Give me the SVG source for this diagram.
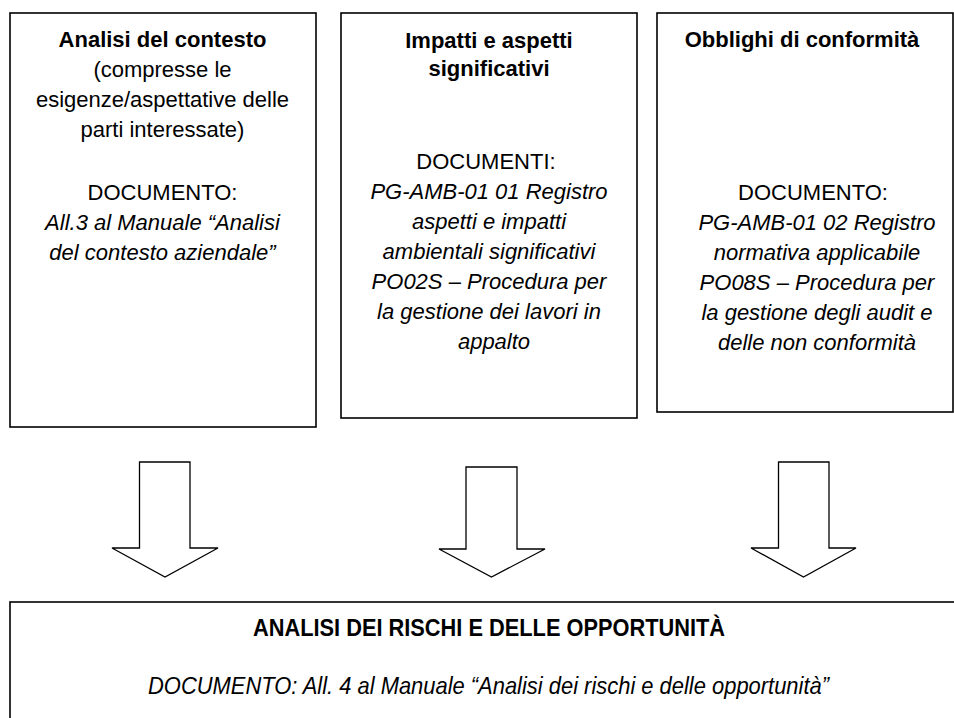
<svg xmlns="http://www.w3.org/2000/svg" width="954" height="718" viewBox="0 0 954 718">
  <style>
    .box { fill: #ffffff; stroke: #000000; stroke-width: 1.6; }
    .arrow { fill: #ffffff; stroke: #000000; stroke-width: 1.3; stroke-linejoin: miter; }
    text { font-family: "Liberation Sans", Arial, sans-serif; fill: #000000; text-anchor: middle; }
    .t { font-size: 22px; }
    .b { font-weight: bold; }
    .i { font-style: italic; }
    .big { font-size: 24px; }
  </style>
  <rect x="0" y="0" width="954" height="718" fill="#ffffff"/>

  <g id="node-contesto">
    <rect class="box" x="10" y="13" width="306" height="414"/>
    <text class="t b" x="162.5" y="47">Analisi del contesto</text>
    <text class="t" x="162.5" y="76.5">(compresse le</text>
    <text class="t" x="162.5" y="106.5">esigenze/aspettative delle</text>
    <text class="t" x="162.5" y="136.5">parti interessate)</text>
    <text class="t" x="162.5" y="200">DOCUMENTO:</text>
    <text class="t i" x="162.5" y="230">All.3 al Manuale “Analisi</text>
    <text class="t i" x="162.5" y="260">del contesto aziendale”</text>
  </g>

  <g id="node-impatti">
    <rect class="box" x="341" y="13" width="296" height="405"/>
    <text class="t b" x="489" y="47.5">Impatti e aspetti</text>
    <text class="t b" x="489" y="76">significativi</text>
    <text class="t" x="486" y="168.5">DOCUMENTI:</text>
    <text class="t i" x="489" y="198.5">PG-AMB-01 01 Registro</text>
    <text class="t i" x="489" y="228.5">aspetti e impatti</text>
    <text class="t i" x="489" y="258.5">ambientali significativi</text>
    <text class="t i" x="489" y="288.5">PO02S – Procedura per</text>
    <text class="t i" x="489" y="318.5">la gestione dei lavori in</text>
    <text class="t i" x="494" y="348.5">appalto</text>
  </g>

  <g id="node-obblighi">
    <rect class="box" x="657" y="13" width="296" height="399"/>
    <text class="t b" x="802" y="46.5">Obblighi di conformità</text>
    <text class="t" x="813" y="200">DOCUMENTO:</text>
    <text class="t i" x="817" y="230">PG-AMB-01 02 Registro</text>
    <text class="t i" x="817" y="260">normativa applicabile</text>
    <text class="t i" x="817" y="290">PO08S – Procedura per</text>
    <text class="t i" x="817" y="320">la gestione degli audit e</text>
    <text class="t i" x="817" y="350">delle non conformità</text>
  </g>

  <g id="node-rischi">
    <rect class="box" x="10" y="602" width="1000" height="200"/>
    <text class="big b" x="489" y="636" textLength="472" lengthAdjust="spacingAndGlyphs">ANALISI DEI RISCHI E DELLE OPPORTUNITÀ</text>
    <text class="big i" x="488.5" y="694" textLength="681" lengthAdjust="spacingAndGlyphs">DOCUMENTO: All. 4 al Manuale “Analisi dei rischi e delle opportunità”</text>
  </g>

  <g id="connectors">
    <polygon class="arrow" points="139.5,462 190,462 190,548 218,548 165,577 112,548 139.5,548"/>
    <polygon class="arrow" points="466,467 517,467 517,549 545,549 491.5,577 439,549 466,549"/>
    <polygon class="arrow" points="778.5,462 829,462 829,548 856,548 803.5,577 751,548 778.5,548"/>
  </g>
</svg>
